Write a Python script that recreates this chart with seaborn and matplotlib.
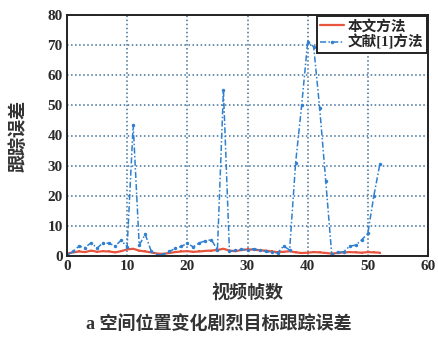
import numpy as np
import pandas as pd
import seaborn as sns
import matplotlib.pyplot as plt

# frame index and tracking errors
frames = list(range(53))
err_ours = [0.8, 1.2, 1.5, 1.3, 1.8, 1.4, 1.6, 1.5, 1.2, 1.6, 2.2, 2.4, 1.8, 1.5,
            1.2, 0.8, 0.7, 1.0, 1.3, 1.5, 1.6, 1.4, 1.5, 1.7, 1.8, 2.0, 2.4, 1.8,
            1.6, 2.0, 2.2, 2.1, 1.9, 1.8, 1.5, 1.3, 1.4, 1.6, 1.2, 1.0, 1.1, 1.3,
            1.2, 1.0, 0.8, 1.0, 1.2, 1.3, 1.2, 1.1, 1.3, 1.2, 1.1]
err_ref1 = [0.2, 1.5, 3.3, 2.8, 4.4, 2.6, 4.4, 4.2, 3.3, 5.2, 3.0, 43.5, 3.6, 7.2,
            1.6, 0.3, 0.5, 1.5, 2.5, 3.2, 4.2, 3.0, 4.4, 5.0, 5.4, 2.0, 55.0, 1.5,
            2.0, 2.2, 2.0, 2.4, 2.0, 1.5, 1.2, 1.0, 3.3, 2.0, 31.0, 50.0, 71.0, 69.5,
            49.0, 25.0, 0.5, 1.3, 1.4, 3.3, 3.6, 5.4, 7.5, 20.0, 30.5]
xticks = [0, 10, 20, 30, 40, 50, 60]
yticks = [0, 10, 20, 30, 40, 50, 60, 70, 80]

sns.set_style('white')
plt.rcParams['font.family'] = ['Liberation Serif', 'Noto Sans CJK SC']

fig = plt.figure(figsize=(4.38, 3.38), dpi=100)
ax = fig.add_axes([67 / 438, 1 - 256 / 338, 361 / 438, 241 / 338])

sns.lineplot(x=frames, y=err_ours, ax=ax, color='#e8553f', lw=1.6,
             marker='s', markersize=2, markeredgewidth=0, label='本文方法')
sns.lineplot(x=frames, y=err_ref1, ax=ax, color='#2f80d0', lw=1.1,
             linestyle=(0, (4, 1.5, 1, 1.5)), marker='o', markersize=2.5,
             markeredgewidth=0, label='文献[1]方法')

ax.set_xlim(0, 60)
ax.set_ylim(0, 80)
ax.set_xticks(xticks)
ax.set_yticks(yticks)
ax.grid(True, linestyle=':', color='#3f6f98', lw=1.1)
ax.tick_params(direction='in', length=3, labelsize=11, pad=3)
for lab in ax.get_xticklabels() + ax.get_yticklabels():
    lab.set_fontweight('bold')
    lab.set_color('#2a2a2a')
for sp in ax.spines.values():
    sp.set_color('#222222')
    sp.set_linewidth(1.4)

leg = ax.legend(loc='upper right', handlelength=1.6,
                borderpad=0.2, labelspacing=0.1, handletextpad=0.3,
                borderaxespad=0.1, fancybox=False, framealpha=1,
                prop={'family': ['Liberation Serif', 'Noto Sans CJK SC'],
                      'weight': 'bold', 'size': 10.5})
leg.get_frame().set_edgecolor('#222222')
leg.get_frame().set_linewidth(1.4)

cjk = ['Liberation Serif', 'Noto Sans CJK SC']
ax.set_xlabel('视频帧数', family=cjk, fontsize=13, fontweight='bold',
              color='#333333', labelpad=8)
ax.set_ylabel('跟踪误差', family=cjk, fontsize=13, fontweight='bold',
              color='#333333', labelpad=14)
fig.text(0.5, 1 - 324 / 338, 'a 空间位置变化剧烈目标跟踪误差', family=cjk,
         fontsize=13, fontweight='bold', color='#333333', ha='center', va='center')

fig.savefig('out.png', dpi=100)
